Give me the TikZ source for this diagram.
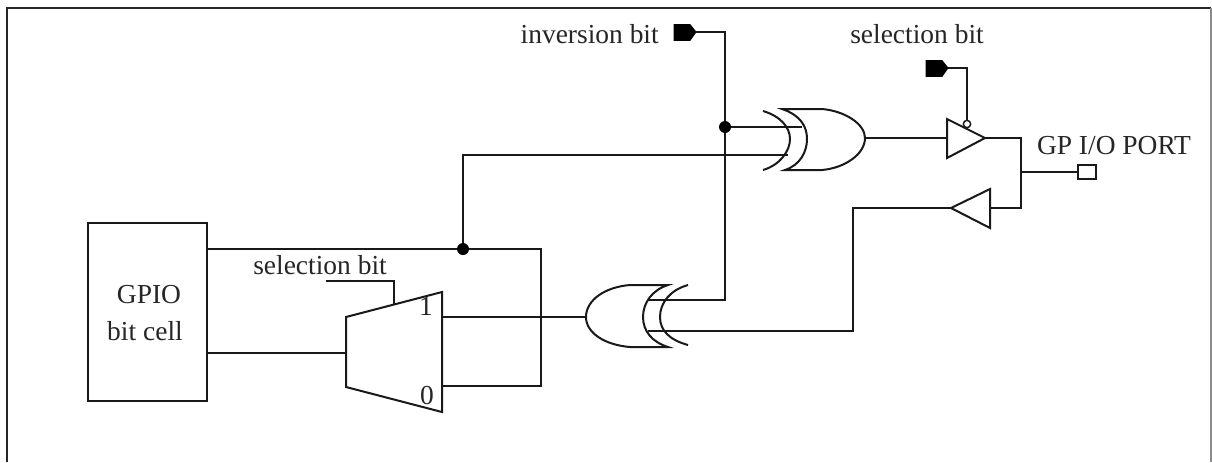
\documentclass[tikz,border=0pt]{standalone}
\usepackage{fontspec}
\setmainfont{Liberation Serif}
\begin{document}
\begin{tikzpicture}[x=0.75pt,y=-0.75pt,
  wire/.style={line width=1.5pt,black!90,line join=miter},
  label/.style={inner sep=0pt,font=\fontsize{20.6}{24}\selectfont,text=black!85},
  dot/.style={circle,fill=black,inner sep=0pt,minimum size=9pt},
  term/.style={fill=black,draw=black,line width=0.6pt},
]
\useasboundingbox (0,0) rectangle (1212,462);
\fill[white] (0,0) rectangle (1212,462);
% frame
\draw[line width=1.6pt,black!85] (7,462) -- (7,8) -- (1211,8);
\draw[line width=1.2pt,black!45] (1211,8) -- (1211,462);
% named points
\node[draw,wire,minimum width=89.25pt,minimum height=133.5pt,inner sep=0pt] (cell) at (147.5,312) {};
\node[label] (cellA) at (149,295) {GPIO};
\node[label] (cellB) at (145,331) {bit cell};
\coordinate (j1) at (463,249);
\coordinate (j2) at (725,127);
\coordinate (muxIn) at (346,353);
\coordinate (mux1) at (442,317);
\coordinate (mux0) at (442,386);
\coordinate (xorBIn) at (586,317);
\coordinate (xorTOut) at (865,138);
\coordinate (bufOutIn) at (947,138);
\coordinate (bufOutTip) at (985,138);
\coordinate (bufInIn) at (990,208);
\coordinate (bufInTip) at (951,208);
\coordinate (pj) at (1021,172);
% mux
\draw[wire] (346,317) -- (442,292) -- (442,412) -- (346,387) -- cycle;
\node[label] (m1) at (426,306) {1};
\node[label] (m0) at (427,395) {0};
\node[label] (selm) at (320,265) {selection bit};
\coordinate (selmA) at (326,281);
\coordinate (selmB) at (394,305);
\draw[wire] (selmA) -| (selmB);
% wires from the cell
\draw[wire] (cell.east |- j1) -- (j1) -- (541,249) -- (541,386) -- (mux0);
\draw[wire] (cell.east |- muxIn) -- (muxIn);
\draw[wire] (j1) -- (463,155) -- (788,155);
\node[dot] (d1) at (j1) {};
% upper xor
\draw[wire] (763,111) .. controls (780,116) and (790,127) .. (790,139) .. controls (790,151) and (780,165) .. (763,170);
\draw[wire] (782,109) -- (822,109) .. controls (845,111) and (865,124) .. (xorTOut) .. controls (865,154) and (845,168) .. (822,170) -- (785,170) .. controls (800,165) and (807,152) .. (807,139) .. controls (807,126) and (800,115) .. (782,109) -- cycle;
% inversion bit
\node[label,anchor=east] (inv) at (659,34) {inversion bit};
\draw[term] (674,24.5) -- (690,24.5) -- (696,32) -- (690,40.5) -- (674,40.5) -- cycle;
\coordinate (invT) at (696,32);
\coordinate (bj) at (725,300);
\draw[wire] (invT) -- (725,32) -- (j2) -- (bj) -- (648,300);
\draw[wire] (j2) -- (802,127);
\node[dot] (d2) at (j2) {};
% lower xor
\draw[wire] (mux1) -- (xorBIn);
\draw[wire] (xorBIn) .. controls (586,300) and (605,287) .. (630,285) -- (668,285) .. controls (652,290) and (643,303) .. (643,317) .. controls (643,331) and (652,342) .. (668,347) -- (630,347) .. controls (605,345) and (586,333) .. (xorBIn) -- cycle;
\draw[wire] (688,285) .. controls (670,290) and (660,303) .. (660,317) .. controls (660,331) and (670,340) .. (688,345);
\draw[wire] (648,331) -- (853,331) -- (853,208) -- (bufInTip);
% output buffers
\draw[wire] (xorTOut) -- (bufOutIn);
\draw[wire] (947,119) -- (bufOutTip) -- (947,158) -- cycle;
\draw[wire] (bufInIn) -- (990,189) -- (bufInTip) -- (990,228) -- cycle;
\draw[wire] (bufOutTip) -- (1021,138) -- (1021,208) -- (bufInIn);
% selection bit (top)
\node[label] (sel) at (917,34) {selection bit};
\draw[term] (926,60.5) -- (942,60.5) -- (948,68) -- (942,76.5) -- (926,76.5) -- cycle;
\coordinate (selT) at (948,68);
\node[circle,draw,black!90,line width=1.1pt,minimum size=5.5pt,inner sep=0pt] (bub) at (967,124) {};
\draw[wire] (selT) -- (bub.north |- selT) -- (bub.north);
% port
\node[draw,wire,minimum width=13pt,minimum height=11pt,inner sep=0pt] (port) at (1087,172) {};
\draw[wire] (pj) -- (port.west);
\node[label] (portl) at (1114,146) {GP I/O PORT};
\end{tikzpicture}
\end{document}
